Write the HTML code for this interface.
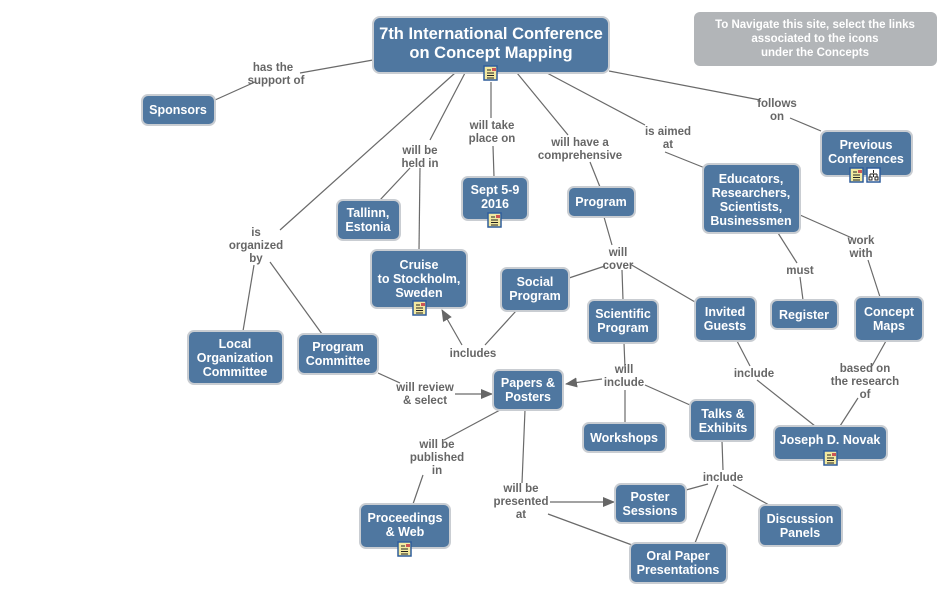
<!DOCTYPE html>
<html><head><meta charset="utf-8"><style>
html,body{margin:0;padding:0;background:#fff;}
svg{display:block;font-family:"Liberation Sans",Arial,sans-serif;}
.n rect{fill:#4f77a0;stroke:#c9cdd2;stroke-width:2;}
.n text{fill:#fff;font-weight:bold;font-size:12.5px;text-anchor:middle;}
.l{fill:#666;font-size:11.5px;font-weight:bold;text-anchor:middle;}
line,polyline{stroke:#6a6a6a;stroke-width:1.2;fill:none;}
</style></head><body>
<svg width="952" height="611" viewBox="0 0 952 611">
<defs>
<marker id="a" markerWidth="12" markerHeight="10" refX="11" refY="5" orient="auto" markerUnits="userSpaceOnUse"><path d="M0,0L12,5L0,10z" fill="#666"/></marker>
<g id="ic"><rect x="0" y="0" width="13" height="14" fill="#f3e9a0" stroke="#2f5d9c" stroke-width="1.5"/><path d="M3,4h4M3,7h7M3,9.5h7M3,12h7" stroke="#222" stroke-width="1"/><rect x="8" y="2" width="4" height="3" fill="#c55"/></g>
<g id="ic2"><rect x="0" y="0" width="13" height="14" fill="#fff" stroke="#2f5d9c" stroke-width="1.5"/><path d="M6.5,2v3M3,6h7M3,6v3M10,6v3M6.5,6v3M2,9h3v3h-3zM8,9h3v3h-3z" stroke="#222" stroke-width="1" fill="none"/></g>
</defs>
<line x1="373" y1="60" x2="300" y2="73"/><line x1="255" y1="82" x2="215" y2="100"/>
<line x1="455" y1="73" x2="280" y2="230"/><line x1="254" y1="265" x2="243" y2="331"/><line x1="270" y1="262" x2="322" y2="334"/>
<line x1="465" y1="73" x2="430" y2="140"/><line x1="410" y1="168" x2="380" y2="200"/><line x1="420" y1="168" x2="419" y2="250"/>
<line x1="491" y1="82" x2="491" y2="118"/><line x1="493" y1="146" x2="494" y2="177"/>
<line x1="517" y1="73" x2="568" y2="135"/><line x1="590" y1="162" x2="600" y2="187"/>
<line x1="547" y1="73" x2="645" y2="125"/><line x1="665" y1="152" x2="705" y2="168"/>
<line x1="609" y1="71" x2="760" y2="100"/><line x1="790" y1="118" x2="821" y2="131"/>
<line x1="604" y1="217" x2="612" y2="245"/><line x1="605" y1="266" x2="569" y2="278"/><line x1="622" y1="270" x2="623" y2="300"/><line x1="630" y1="264" x2="695" y2="302"/>
<line x1="516" y1="311" x2="485" y2="345"/><line x1="462" y1="345" x2="442" y2="310" marker-end="url(#a)"/>
<line x1="778" y1="233" x2="797" y2="263"/><line x1="800" y1="277" x2="803" y2="300"/>
<line x1="800" y1="215" x2="852" y2="238"/><line x1="868" y1="260" x2="880" y2="297"/>
<line x1="886" y1="341" x2="872" y2="366"/><line x1="858" y1="398" x2="840" y2="426"/>
<line x1="737" y1="341" x2="750" y2="366"/><line x1="757" y1="380" x2="815" y2="426"/>
<line x1="378" y1="373" x2="400" y2="383"/><line x1="455" y1="394" x2="492" y2="394" marker-end="url(#a)"/>
<line x1="624" y1="343" x2="625" y2="368"/><line x1="602" y1="379" x2="566" y2="384" marker-end="url(#a)"/><line x1="625" y1="390" x2="625" y2="423"/><line x1="645" y1="385" x2="690" y2="405"/>
<line x1="500" y1="410" x2="444" y2="440"/><line x1="423" y1="475" x2="413" y2="504"/>
<line x1="525" y1="410" x2="522" y2="483"/><line x1="550" y1="502" x2="614" y2="502" marker-end="url(#a)"/><line x1="548" y1="514" x2="632" y2="545"/>
<line x1="722" y1="441" x2="723" y2="470"/><line x1="708" y1="484" x2="686" y2="490"/><line x1="718" y1="485" x2="695" y2="543"/><line x1="733" y1="485" x2="769" y2="505"/>
<text class="l" x="273" y="71">has the</text><text class="l" x="276" y="84">support of</text>
<text class="l" x="420" y="154">will be</text><text class="l" x="420" y="167">held in</text>
<text class="l" x="492" y="129">will take</text><text class="l" x="492" y="142">place on</text>
<text class="l" x="580" y="146">will have a</text><text class="l" x="580" y="159">comprehensive</text>
<text class="l" x="668" y="135">is aimed</text><text class="l" x="668" y="148">at</text>
<text class="l" x="777" y="107">follows</text><text class="l" x="777" y="120">on</text>
<text class="l" x="256" y="236">is</text><text class="l" x="256" y="249">organized</text><text class="l" x="256" y="262">by</text>
<text class="l" x="800" y="274">must</text>
<text class="l" x="861" y="244">work</text><text class="l" x="861" y="257">with</text>
<text class="l" x="618" y="256">will</text><text class="l" x="618" y="269">cover</text>
<text class="l" x="473" y="357">includes</text>
<text class="l" x="865" y="372">based on</text><text class="l" x="865" y="385">the research</text><text class="l" x="865" y="398">of</text>
<text class="l" x="754" y="377">include</text>
<text class="l" x="624" y="373">will</text><text class="l" x="624" y="386">include</text>
<text class="l" x="425" y="391">will review</text><text class="l" x="425" y="404">&amp; select</text>
<text class="l" x="437" y="448">will be</text><text class="l" x="437" y="461">published</text><text class="l" x="437" y="474">in</text>
<text class="l" x="521" y="492">will be</text><text class="l" x="521" y="505">presented</text><text class="l" x="521" y="518">at</text>
<text class="l" x="723" y="481">include</text>
<rect x="694" y="12" width="243" height="54" rx="6" fill="#b2b5b8"/>
<g fill="#fff" font-weight="bold" font-size="11.5" text-anchor="middle"><text x="815" y="28">To Navigate this site, select the links</text><text x="815" y="42">associated to the icons</text><text x="815" y="56">under the Concepts</text></g>
<g class="n">
<rect x="373" y="17" width="236" height="56" rx="7"/><text x="491" y="39" style="font-size:16.5px">7th International Conference</text><text x="491" y="58" style="font-size:16.5px">on Concept Mapping</text>
<rect x="142" y="95" width="73" height="30" rx="6"/><text x="178" y="114">Sponsors</text>
<rect x="821" y="131" width="91" height="45" rx="6"/><text x="866" y="149">Previous</text><text x="866" y="163">Conferences</text>
<rect x="462" y="177" width="66" height="43" rx="6"/><text x="495" y="194">Sept 5-9</text><text x="495" y="208">2016</text>
<rect x="568" y="187" width="67" height="30" rx="6"/><text x="601" y="206">Program</text>
<rect x="703" y="164" width="97" height="69" rx="6"/><text x="751" y="183">Educators,</text><text x="751" y="197">Researchers,</text><text x="751" y="211">Scientists,</text><text x="751" y="225">Businessmen</text>
<rect x="337" y="200" width="63" height="40" rx="6"/><text x="368" y="217">Tallinn,</text><text x="368" y="231">Estonia</text>
<rect x="371" y="250" width="96" height="58" rx="6"/><text x="419" y="269">Cruise</text><text x="419" y="283">to Stockholm,</text><text x="419" y="297">Sweden</text>
<rect x="501" y="268" width="68" height="43" rx="6"/><text x="535" y="286">Social</text><text x="535" y="300">Program</text>
<rect x="588" y="300" width="70" height="43" rx="6"/><text x="623" y="318">Scientific</text><text x="623" y="332">Program</text>
<rect x="695" y="297" width="61" height="44" rx="6"/><text x="725" y="316">Invited</text><text x="725" y="330">Guests</text>
<rect x="771" y="300" width="67" height="29" rx="6"/><text x="804" y="319">Register</text>
<rect x="855" y="297" width="68" height="44" rx="6"/><text x="889" y="316">Concept</text><text x="889" y="330">Maps</text>
<rect x="188" y="331" width="95" height="53" rx="6"/><text x="235" y="348">Local</text><text x="235" y="362">Organization</text><text x="235" y="376">Committee</text>
<rect x="298" y="334" width="80" height="40" rx="6"/><text x="338" y="351">Program</text><text x="338" y="365">Committee</text>
<rect x="493" y="370" width="70" height="40" rx="6"/><text x="528" y="387">Papers &amp;</text><text x="528" y="401">Posters</text>
<rect x="583" y="423" width="83" height="29" rx="6"/><text x="624" y="442">Workshops</text>
<rect x="690" y="400" width="65" height="41" rx="6"/><text x="723" y="418">Talks &amp;</text><text x="723" y="432">Exhibits</text>
<rect x="774" y="426" width="113" height="34" rx="6"/><text x="830" y="444">Joseph D. Novak</text>
<rect x="360" y="504" width="90" height="44" rx="6"/><text x="405" y="522">Proceedings</text><text x="405" y="536">&amp; Web</text>
<rect x="615" y="484" width="71" height="39" rx="6"/><text x="650" y="501">Poster</text><text x="650" y="515">Sessions</text>
<rect x="759" y="505" width="83" height="41" rx="6"/><text x="800" y="523">Discussion</text><text x="800" y="537">Panels</text>
<rect x="630" y="543" width="97" height="40" rx="6"/><text x="678" y="560">Oral Paper</text><text x="678" y="574">Presentations</text>
</g>
<use href="#ic" x="484" y="66"/>
<use href="#ic" x="850" y="168"/><use href="#ic2" x="867" y="168"/>
<use href="#ic" x="488" y="213"/>
<use href="#ic" x="413" y="301"/>
<use href="#ic" x="824" y="451"/>
<use href="#ic" x="398" y="542"/>
</svg>
</body></html>
